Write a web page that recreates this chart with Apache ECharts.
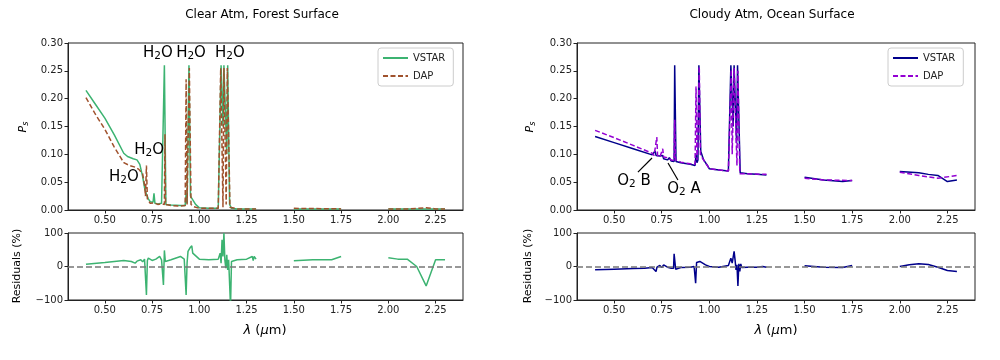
<!DOCTYPE html>
<html>
<head>
<meta charset="utf-8">
<script src="https://cdn.jsdelivr.net/npm/echarts@6/dist/echarts.min.js"></script>
<style>html,body{margin:0;padding:0;background:#fff}#c{width:1000px;height:360px}</style>
</head>
<body>
<div id="c"></div>
<script>
// ---------- data ----------
const xTicks = [0.5, 0.75, 1.0, 1.25, 1.5, 1.75, 2.0, 2.25];
const psTicks = [0, 0.05, 0.1, 0.15, 0.2, 0.25, 0.3];
const resTicks = [-100, 0, 100];
const panelTitles = ['Clear Atm, Forest Surface', 'Cloudy Atm, Ocean Surface'];

// Left panel (clear atmosphere, forest surface)
const leftVstarX = [0.40,0.45,0.50,0.55,0.60,0.62,0.65,0.67,0.685,0.70,0.71,0.72,0.73,0.74,0.755,0.76,0.765,0.78,0.80,0.81,0.815,0.82,0.823,0.85,0.90,0.925,0.93,0.935,0.94,0.945,0.95,0.953,0.96,0.98,1.00,1.05,1.10,1.11,1.115,1.12,1.125,1.13,1.14,1.145,1.15,1.155,1.16,1.17,1.20,1.25,1.30,1.31,1.50,1.60,1.75,1.76,2.00,2.10,2.20,2.30];
const leftVstarY = [0.215,0.190,0.165,0.135,0.102,0.096,0.092,0.090,0.082,0.060,0.040,0.028,0.020,0.015,0.014,0.030,0.012,0.011,0.012,0.010,0.260,0.260,0.010,0.009,0.008,0.008,0.030,0.012,0.015,0.260,0.260,0.025,0.022,0.010,0.004,0.003,0.003,0.004,0.260,0.260,0.150,0.260,0.260,0.100,0.260,0.260,0.010,0.003,0.002,0.002,0.002,null,0.002,0.002,0.002,null,0.002,0.002,0.002,0.002];
const leftDapX = [0.40,0.45,0.50,0.55,0.60,0.63,0.66,0.68,0.70,0.71,0.715,0.72,0.725,0.74,0.76,0.78,0.80,0.815,0.818,0.821,0.85,0.90,0.925,0.93,0.935,0.94,0.947,0.952,0.956,0.97,1.00,1.10,1.113,1.12,1.125,1.13,1.138,1.142,1.148,1.157,1.162,1.20,1.30,1.31,1.50,1.75,1.76,2.00,2.10,2.20,2.25,2.30];
const leftDapY = [0.202,0.172,0.145,0.113,0.085,0.080,0.077,0.073,0.065,0.045,0.025,0.080,0.020,0.012,0.013,0.010,0.011,0.010,0.136,0.010,0.008,0.007,0.008,0.235,0.010,0.008,0.255,0.255,0.010,0.006,0.003,0.003,0.255,0.255,0.005,0.255,0.255,0.010,0.255,0.255,0.005,0.002,0.002,null,0.003,0.002,null,0.002,0.002,0.004,0.002,0.002];
const leftResX = [0.40,0.50,0.60,0.64,0.66,0.67,0.69,0.70,0.71,0.715,0.72,0.725,0.73,0.75,0.77,0.79,0.80,0.81,0.815,0.82,0.85,0.90,0.92,0.93,0.935,0.94,0.95,0.96,0.965,0.97,1.00,1.05,1.10,1.11,1.115,1.12,1.125,1.13,1.135,1.14,1.145,1.15,1.155,1.165,1.17,1.18,1.20,1.25,1.28,1.285,1.29,1.30,1.31,1.50,1.60,1.70,1.75,1.76,2.00,2.05,2.10,2.15,2.20,2.25,2.30];
const leftResY = [7,12,18,15,10,16,20,14,22,18,-85,18,25,18,22,30,20,-55,48,15,20,30,22,-85,10,45,55,62,40,35,22,20,22,40,10,80,30,100,20,-5,35,-10,20,-120,15,18,20,22,30,18,30,22,null,17,20,20,30,null,26,22,22,0,-58,20,20];

// Right panel (cloudy atmosphere, ocean surface)
const rightVstarX = [0.40,0.50,0.60,0.70,0.71,0.715,0.72,0.73,0.74,0.75,0.755,0.76,0.78,0.79,0.80,0.815,0.818,0.822,0.825,0.85,0.90,0.925,0.93,0.935,0.94,0.945,0.95,0.955,0.96,0.97,0.99,1.00,1.05,1.10,1.11,1.113,1.12,1.125,1.13,1.14,1.143,1.148,1.157,1.162,1.20,1.25,1.30,1.31,1.50,1.60,1.70,1.75,1.76,2.00,2.10,2.15,2.20,2.25,2.30];
const rightVstarY = [0.132,0.121,0.110,0.099,0.100,0.106,0.098,0.098,0.097,0.094,0.098,0.092,0.090,0.094,0.088,0.087,0.260,0.260,0.087,0.085,0.082,0.080,0.100,0.085,0.090,0.260,0.260,0.105,0.100,0.090,0.080,0.074,0.072,0.070,0.071,0.260,0.260,0.150,0.260,0.260,0.120,0.260,0.260,0.067,0.065,0.064,0.063,null,0.059,0.054,0.051,0.053,null,0.069,0.067,0.064,0.062,0.051,0.054];
const rightDapX = [0.40,0.50,0.60,0.70,0.71,0.72,0.724,0.728,0.74,0.755,0.76,0.78,0.80,0.815,0.818,0.822,0.85,0.90,0.925,0.93,0.935,0.94,0.947,0.953,0.96,1.00,1.10,1.115,1.12,1.13,1.14,1.145,1.15,1.16,1.20,1.30,1.31,1.50,1.60,1.75,1.76,2.00,2.10,2.20,2.30];
const rightDapY = [0.143,0.130,0.116,0.102,0.098,0.100,0.131,0.098,0.095,0.110,0.095,0.094,0.090,0.089,0.162,0.090,0.086,0.083,0.082,0.222,0.090,0.120,0.258,0.100,0.095,0.074,0.070,0.252,0.100,0.255,0.252,0.080,0.250,0.065,0.065,0.064,null,0.057,0.054,0.053,null,0.068,0.062,0.057,0.062];
const rightResX = [0.40,0.50,0.60,0.66,0.70,0.71,0.72,0.725,0.74,0.75,0.76,0.78,0.80,0.812,0.815,0.82,0.823,0.85,0.90,0.92,0.928,0.933,0.94,0.95,0.96,0.98,1.00,1.05,1.10,1.113,1.12,1.13,1.135,1.14,1.145,1.15,1.155,1.16,1.165,1.17,1.20,1.25,1.28,1.30,1.31,1.50,1.60,1.70,1.75,1.76,2.00,2.05,2.10,2.15,2.20,2.25,2.30];
const rightResY = [-10,-8,-6,-5,-3,2,-15,-2,3,-3,5,-2,-5,-5,38,35,-8,-3,-2,0,-50,12,10,15,18,5,0,-2,3,25,10,45,20,-10,5,-58,8,-15,8,-3,-2,-2,0,-2,null,2,-2,-3,3,null,0,5,8,6,-2,-12,-15];

// Annotations (data coordinates)
const h2oLabelsX = [0.601, 0.734, 0.781, 0.956, 1.162];
const h2oLabelsY = [0.059, 0.108, 0.282, 0.282, 0.282];
const o2Labels = ['B', 'A'];
const o2TextX = [0.604, 0.867];
const o2TextY = [0.052, 0.038];
const o2ArrowFromX = [0.625, 0.835];
const o2ArrowFromY = [0.068, 0.054];
const o2ArrowToX = [0.699, 0.783];
const o2ArrowToY = [0.0934, 0.0844];

// ---------- chart ----------
const FF = 'DejaVu Sans';
const AX = '#222';
const zip = (xs, ys) => xs.map((x, i) => [x, ys[i] === null ? '-' : ys[i]]);

const grids = [
  {left: 68, top: 43, width: 395, height: 167},
  {left: 68, top: 233, width: 395, height: 67},
  {left: 577, top: 43, width: 398, height: 167},
  {left: 577, top: 233, width: 398, height: 67}
].map(g => Object.assign(g, {show: true, borderColor: AX, borderWidth: 1, backgroundColor: 'transparent'}));

function xAx(gi) {
  return {
    type: 'value', gridIndex: gi, min: 0.305, max: 2.395,
    axisLine: {show: true, onZero: false, lineStyle: {color: AX, width: 1}},
    axisTick: {show: true, customValues: xTicks, length: 3.5, lineStyle: {color: AX}},
    axisLabel: {customValues: xTicks, formatter: v => v.toFixed(2), fontSize: 10, color: AX, fontFamily: FF, margin: 5},
    splitLine: {show: false}
  };
}
function yAxTop(gi) {
  return {
    type: 'value', gridIndex: gi, min: 0, max: 0.3, interval: 0.05,
    axisLine: {show: true, lineStyle: {color: AX}},
    axisTick: {show: true, length: 3.5, lineStyle: {color: AX}},
    axisLabel: {formatter: v => v.toFixed(2), fontSize: 10, color: AX, fontFamily: FF, margin: 5},
    splitLine: {show: false}
  };
}
function yAxBot(gi) {
  return {
    type: 'value', gridIndex: gi, min: -100, max: 100, interval: 100,
    axisLine: {show: true, onZero: false, lineStyle: {color: AX}},
    axisTick: {show: true, length: 3.5, lineStyle: {color: AX}},
    axisLabel: {formatter: v => v < 0 ? '\u2212' + Math.abs(v) : String(v), fontSize: 10, color: AX, fontFamily: FF, margin: 5},
    splitLine: {show: false}
  };
}
function lineSeries(name, gi, data, color, dashed) {
  return {
    name: name, type: 'line', xAxisIndex: gi, yAxisIndex: gi, data: data,
    symbol: 'none', showSymbol: false, connectNulls: false, clip: true,
    lineStyle: {color: color, width: 1.5, type: dashed ? [5, 2.5] : 'solid'},
    itemStyle: {color: color}, z: dashed ? 3 : 2
  };
}
const zeroLine = {
  silent: true, symbol: 'none', label: {show: false},
  lineStyle: {color: '#777', width: 1.5, type: [6, 3]},
  data: [{yAxis: 0}]
};

const GREEN = '#3cb371', BROWN = '#a0522d', NAVY = '#00008b', VIOLET = '#9400d3';

const series = [
  lineSeries('VSTAR', 0, zip(leftVstarX, leftVstarY), GREEN, false),
  lineSeries('DAP', 0, zip(leftDapX, leftDapY), BROWN, true),
  Object.assign(lineSeries('res L', 1, zip(leftResX, leftResY), GREEN, false), {markLine: zeroLine}),
  lineSeries('VSTAR ', 2, zip(rightVstarX, rightVstarY), NAVY, false),
  lineSeries('DAP ', 2, zip(rightDapX, rightDapY), VIOLET, true),
  Object.assign(lineSeries('res R', 3, zip(rightResX, rightResY), NAVY, false), {markLine: zeroLine})
];
// O2 arrows via markLine on the right VSTAR series
series[3].markLine = {
  silent: true, symbol: ['none', 'arrow'], symbolSize: [0, 9], label: {show: false},
  lineStyle: {color: '#000', width: 1.2, type: 'solid'},
  itemStyle: {color: '#000'}, z: 12,
  data: o2Labels.map((_, i) => [{coord: [o2ArrowFromX[i], o2ArrowFromY[i]]}, {coord: [o2ArrowToX[i], o2ArrowToY[i]]}])
};

function legendAt(left, names) {
  return {
    left: left, top: 48, orient: 'vertical', data: names,
    formatter: n => n.trim(), itemWidth: 25, itemHeight: 10, itemGap: 8,
    textStyle: {fontSize: 10, color: AX, fontFamily: FF},
    itemStyle: {color: 'rgba(0,0,0,0)', borderColor: 'rgba(0,0,0,0)', borderWidth: 0},
    borderColor: '#ccc', borderWidth: 1, borderRadius: 3, padding: [5, 8, 5, 4],
    backgroundColor: '#fff', selectedMode: false
  };
}

const chart = echarts.init(document.getElementById('c'), null, {renderer: 'canvas'});
chart.setOption({
  animation: false,
  backgroundColor: '#fff',
  grid: grids,
  xAxis: [xAx(0), xAx(1), xAx(2), xAx(3)],
  yAxis: [yAxTop(0), yAxBot(1), yAxTop(2), yAxBot(3)],
  legend: [legendAt(378, ['VSTAR', 'DAP']), legendAt(888, ['VSTAR ', 'DAP '])],
  series: series
});

// ---------- text annotations ----------
const subRich = {
  n: {fontSize: 15, fontFamily: FF, color: '#000'},
  s: {fontSize: 10.5, fontFamily: FF, color: '#000', padding: [7, 0, 0, 0]}
};
const graphics = [];
panelTitles.forEach((t, i) => {
  graphics.push({type: 'text', x: i === 0 ? 262 : 772, y: 15,
    style: {text: t, fontSize: 12, fontFamily: FF, fill: '#000', align: 'center', verticalAlign: 'middle'}});
});
h2oLabelsX.forEach((x, i) => {
  const p = chart.convertToPixel({gridIndex: 0}, [x, h2oLabelsY[i]]);
  graphics.push({type: 'text', x: p[0], y: p[1], z: 10,
    style: {text: '{n|H}{s|2}{n|O}', rich: subRich, align: 'center', verticalAlign: 'middle'}});
});
o2Labels.forEach((l, i) => {
  const p = chart.convertToPixel({gridIndex: 2}, [o2TextX[i], o2TextY[i]]);
  graphics.push({type: 'text', x: p[0], y: p[1], z: 10,
    style: {text: '{n|O}{s|2}{n| ' + l + '}', rich: subRich, align: 'center', verticalAlign: 'middle'}});
});
// axis titles
const psRich = {
  i: {fontSize: 11, fontFamily: FF, fontStyle: 'italic', color: '#000'},
  s: {fontSize: 8, fontFamily: FF, fontStyle: 'italic', color: '#000', padding: [5, 0, 0, 0]}
};
[[23, 127], [530, 127]].forEach(p => {
  graphics.push({type: 'text', x: p[0], y: p[1], rotation: Math.PI / 2,
    style: {text: '{i|P}{s|s}', rich: psRich, align: 'center', verticalAlign: 'middle'}});
});
[[17, 266], [528, 266]].forEach(p => {
  graphics.push({type: 'text', x: p[0], y: p[1], rotation: Math.PI / 2,
    style: {text: 'Residuals (%)', fontSize: 11, fontFamily: FF, fill: '#000', align: 'center', verticalAlign: 'middle'}});
});
const lamRich = {
  i: {fontSize: 13, fontFamily: FF, fontStyle: 'italic', color: '#000'},
  n: {fontSize: 13, fontFamily: FF, color: '#000'}
};
[265, 776].forEach(x => {
  graphics.push({type: 'text', x: x, y: 331,
    style: {text: '{i|λ}{n| (}{i|μ}{n|m)}', rich: lamRich, align: 'center', verticalAlign: 'middle'}});
});
chart.setOption({graphic: graphics});
</script>
</body>
</html>
